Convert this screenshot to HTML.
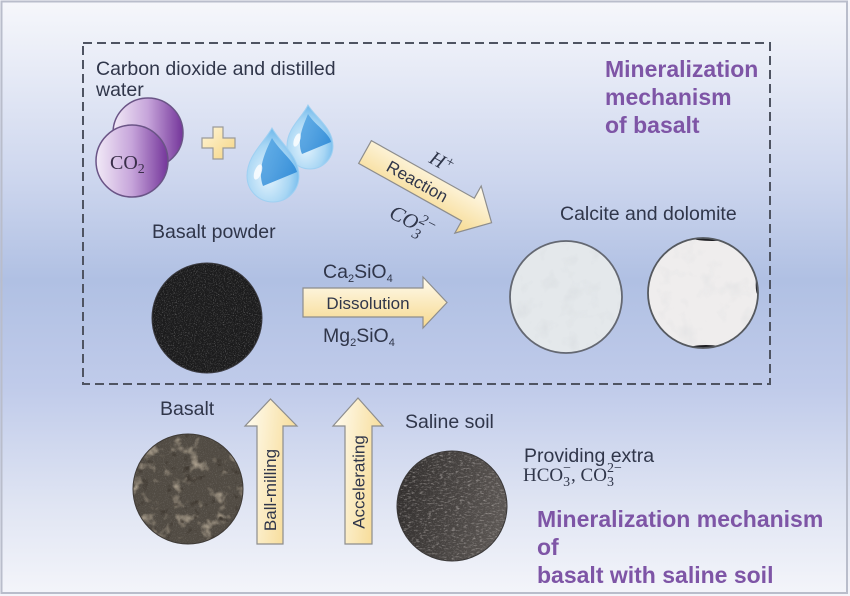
<!DOCTYPE html>
<html>
<head>
<meta charset="utf-8">
<style>
html,body{margin:0;padding:0;background:#fff;}
svg{display:block;}
text{font-family:"Liberation Sans",Arial,sans-serif;}
.t{fill:#30364a;font-size:19.5px;}
.p{fill:#7e55a6;font-size:23px;font-weight:bold;}
.s{font-family:"Liberation Serif",serif;}
</style>
</head>
<body>
<svg width="850" height="596" viewBox="0 0 850 596" xmlns="http://www.w3.org/2000/svg">
<defs>
  <linearGradient id="bg" x1="0" y1="0" x2="0" y2="1">
    <stop offset="0" stop-color="#f6f7fb"/>
    <stop offset="0.08" stop-color="#eceff8"/>
    <stop offset="0.30" stop-color="#cdd6ee"/>
    <stop offset="0.47" stop-color="#b0c0e3"/>
    <stop offset="0.65" stop-color="#c0cbea"/>
    <stop offset="0.85" stop-color="#e0e5f3"/>
    <stop offset="1" stop-color="#f4f5fa"/>
  </linearGradient>
  <linearGradient id="co2g" x1="0" y1="0" x2="1" y2="0">
    <stop offset="0" stop-color="#f2eaf7"/>
    <stop offset="0.5" stop-color="#c6a4da"/>
    <stop offset="1" stop-color="#74359a"/>
  </linearGradient>
  <linearGradient id="plusg" x1="0" y1="0" x2="1" y2="1">
    <stop offset="0" stop-color="#fff6d8"/>
    <stop offset="1" stop-color="#f5d483"/>
  </linearGradient>
  <radialGradient id="dropg" cx="0.4" cy="0.65" r="0.7">
    <stop offset="0" stop-color="#e6f4fd"/>
    <stop offset="0.6" stop-color="#a8d6f4"/>
    <stop offset="1" stop-color="#62b2ea"/>
  </radialGradient>
  <linearGradient id="dropin" x1="0" y1="0" x2="1" y2="1">
    <stop offset="0" stop-color="#5aaae6"/>
    <stop offset="1" stop-color="#1f7fd2"/>
  </linearGradient>
  <linearGradient id="arrH" x1="0" y1="0" x2="0" y2="1">
    <stop offset="0" stop-color="#fffbef"/>
    <stop offset="1" stop-color="#f6d98e"/>
  </linearGradient>
  <linearGradient id="arrV" x1="0" y1="0" x2="1" y2="0.3">
    <stop offset="0" stop-color="#fffdf4"/>
    <stop offset="1" stop-color="#f7dc98"/>
  </linearGradient>
  <linearGradient id="soilg" x1="0" y1="0" x2="1" y2="0.2">
    <stop offset="0" stop-color="#2e2b2a"/>
    <stop offset="1" stop-color="#5a5552"/>
  </linearGradient>
  <clipPath id="c1"><circle cx="207" cy="318" r="55"/></clipPath>
  <clipPath id="c2"><circle cx="188" cy="489" r="55"/></clipPath>
  <clipPath id="c3"><circle cx="452" cy="506" r="55"/></clipPath>
  <clipPath id="c4"><circle cx="566" cy="297" r="56"/></clipPath>
  <clipPath id="c5"><circle cx="703" cy="293" r="55"/></clipPath>
  <filter id="speck" x="0" y="0" width="850" height="596" filterUnits="userSpaceOnUse">
    <feTurbulence type="fractalNoise" baseFrequency="0.9" numOctaves="2" seed="4"/>
    <feColorMatrix type="matrix" values="0 0 0 0 0.55  0 0 0 0 0.55  0 0 0 0 0.55  2.2 0 0 0 -1.15"/>
  </filter>
  <filter id="rock" x="0" y="0" width="850" height="596" filterUnits="userSpaceOnUse">
    <feTurbulence type="fractalNoise" baseFrequency="0.07" numOctaves="3" seed="7"/>
    <feColorMatrix type="matrix" values="0 0 0 0 0.68  0 0 0 0 0.58  0 0 0 0 0.44  3 0 0 0 -1.65"/>
  </filter>
  <filter id="holes" x="0" y="0" width="850" height="596" filterUnits="userSpaceOnUse">
    <feTurbulence type="fractalNoise" baseFrequency="0.12" numOctaves="2" seed="11"/>
    <feColorMatrix type="matrix" values="0 0 0 0 0.05  0 0 0 0 0.04  0 0 0 0 0.03  -5 0 0 0 1.9"/>
  </filter>
  <filter id="streak" x="0" y="0" width="850" height="596" filterUnits="userSpaceOnUse">
    <feTurbulence type="fractalNoise" baseFrequency="0.25 0.6" numOctaves="2" seed="2"/>
    <feColorMatrix type="matrix" values="0 0 0 0 0.58  0 0 0 0 0.54  0 0 0 0 0.52  3 0 0 0 -1.6"/>
  </filter>
  <filter id="soft" x="0" y="0" width="850" height="596" filterUnits="userSpaceOnUse">
    <feTurbulence type="fractalNoise" baseFrequency="0.05" numOctaves="3" seed="9"/>
    <feColorMatrix type="matrix" values="0 0 0 0 0.6  0 0 0 0 0.63  0 0 0 0 0.66  1.6 0 0 0 -0.85"/>
  </filter>
</defs>

<!-- background -->
<rect x="0" y="0" width="850" height="596" fill="url(#bg)"/>
<rect x="1.5" y="1.5" width="845.5" height="591.5" fill="none" stroke="#b9bdcb" stroke-width="2"/>

<!-- dashed box -->
<rect x="83" y="43" width="687" height="341" fill="none" stroke="#4f5462" stroke-width="2" stroke-dasharray="9,5"/>

<!-- text top -->
<text class="t" x="96" y="75">Carbon dioxide and distilled</text>
<text class="t" x="96" y="96">water</text>

<!-- CO2 circles -->
<circle cx="148" cy="133" r="35" fill="url(#co2g)" stroke="#6a5486" stroke-width="1.5"/>
<circle cx="132" cy="161" r="36" fill="url(#co2g)" stroke="#6a5486" stroke-width="1.5"/>
<text class="s" x="110" y="169" font-size="20" fill="#3a2f4a">CO<tspan font-size="14" dy="4">2</tspan></text>

<!-- plus -->
<path d="M213,127 h10 v11 h12 v10 h-12 v11 h-10 v-11 h-11 v-10 h11 z" fill="url(#plusg)" stroke="#9a9a9a" stroke-width="1.2"/>

<!-- drops -->
<g transform="translate(310,144)">
  <path d="M-2,-39 C6,-26 23,-16 23,2 A23,23 0 0 1 -23,2 C-23,-16 -8,-26 -2,-39 Z" fill="url(#dropg)" stroke="#9fd0f2" stroke-width="1"/>
  <path d="M-2,-30 C4,-20 20,-10 21,-2 L-8,10 C-14,-4 -6,-20 -2,-30 Z" fill="url(#dropin)" opacity="0.85"/>
  <ellipse cx="-13" cy="-4" rx="3" ry="7" fill="#ffffff" opacity="0.8" transform="rotate(20 -13 -4)"/>
</g>
<g transform="translate(273,176)">
  <path d="M-1,-48 C8,-32 26,-20 26,0 A26,26 0 0 1 -26,0 C-26,-20 -10,-32 -1,-48 Z" fill="url(#dropg)" stroke="#9fd0f2" stroke-width="1"/>
  <path d="M-1,-38 C6,-26 22,-14 24,-4 L-10,10 C-16,-6 -8,-24 -1,-38 Z" fill="url(#dropin)" opacity="0.85"/>
  <ellipse cx="-15" cy="-4" rx="3.5" ry="8" fill="#ffffff" opacity="0.8" transform="rotate(20 -15 -4)"/>
</g>

<!-- purple title top -->
<text class="p" x="605" y="77">Mineralization</text>
<text class="p" x="605" y="105">mechanism</text>
<text class="p" x="605" y="133">of basalt</text>

<!-- reaction arrow -->
<g transform="translate(365,152) rotate(29.2)">
  <polygon points="0,-13 118,-13 118,-27 145,0 118,27 118,13 0,13" fill="url(#arrH)" stroke="#8d8d8d" stroke-width="1.2"/>
  <text x="60" y="6" text-anchor="middle" font-size="17" fill="#30364a">Reaction</text>
</g>
<text class="s" x="0" y="0" font-size="20" font-style="italic" fill="#30364a" transform="translate(428,162) rotate(29)">H<tspan font-size="15" dy="-6">+</tspan></text>
<text class="s" x="0" y="0" font-size="21" font-style="italic" fill="#30364a" transform="translate(388,217) rotate(27)">CO<tspan font-size="15" dy="7">3</tspan><tspan font-size="15" dx="-7" dy="-16">2−</tspan></text>

<!-- basalt powder -->
<text class="t" x="152" y="238">Basalt powder</text>
<g clip-path="url(#c1)">
  <rect x="150" y="262" width="115" height="113" fill="#1c1c1d"/>
  <rect x="150" y="262" width="115" height="113" filter="url(#speck)" opacity="0.6"/>
</g>
<circle cx="207" cy="318" r="55" fill="none" stroke="#3a3a40" stroke-width="1"/>

<!-- dissolution arrow -->
<text class="t" x="323" y="278" font-size="17">Ca<tspan font-size="11" dy="4">2</tspan><tspan dy="-4">SiO</tspan><tspan font-size="11" dy="4">4</tspan></text>
<polygon points="303,288 423,288 423,277 447,302.5 423,328 423,317 303,317" fill="url(#arrH)" stroke="#8d8d8d" stroke-width="1.2"/>
<text x="368" y="309" text-anchor="middle" font-size="17" fill="#30364a">Dissolution</text>
<text class="t" x="323" y="342" font-size="17">Mg<tspan font-size="11" dy="4">2</tspan><tspan dy="-4">SiO</tspan><tspan font-size="11" dy="4">4</tspan></text>

<!-- calcite and dolomite -->
<text class="t" x="560" y="220">Calcite and dolomite</text>
<g clip-path="url(#c4)">
  <rect x="508" y="240" width="118" height="115" fill="#e4e8eb"/>
  <rect x="508" y="240" width="118" height="115" filter="url(#soft)" opacity="0.55"/>
</g>
<circle cx="566" cy="297" r="56" fill="none" stroke="#646872" stroke-width="1.8"/>
<g clip-path="url(#c5)">
  <rect x="646" y="236" width="116" height="114" fill="#efeded"/>
  <rect x="646" y="236" width="116" height="114" filter="url(#soft)" opacity="0.45"/>
  <ellipse cx="712" cy="238.5" rx="18" ry="2.5" fill="#1e1e22"/>
  <ellipse cx="706" cy="348" rx="16" ry="3" fill="#1e1e22"/>
  <ellipse cx="757.5" cy="285" rx="1.8" ry="9" fill="#2a2a30"/>
</g>
<circle cx="703" cy="293" r="55" fill="none" stroke="#55595f" stroke-width="1.8"/>

<!-- basalt -->
<text class="t" x="160" y="415">Basalt</text>
<g clip-path="url(#c2)">
  <rect x="130" y="432" width="116" height="114" fill="#514b43"/>
  <rect x="130" y="432" width="116" height="114" filter="url(#rock)" opacity="0.8"/>
  <rect x="130" y="432" width="116" height="114" filter="url(#holes)"/>
  <rect x="130" y="432" width="116" height="114" filter="url(#speck)" opacity="0.3"/>
</g>
<circle cx="188" cy="489" r="55" fill="none" stroke="#3e3a36" stroke-width="1"/>

<!-- vertical arrows -->
<polygon points="257,544 257,426 245,426 270.5,399 297,426 283,426 283,544" fill="url(#arrV)" stroke="#8d8d8d" stroke-width="1.2"/>
<text x="0" y="0" text-anchor="middle" font-size="17" fill="#30364a" transform="translate(276,490) rotate(-90)">Ball-milling</text>
<polygon points="345,544 345,426 333,426 358,398 383,426 372,426 372,544" fill="url(#arrV)" stroke="#8d8d8d" stroke-width="1.2"/>
<text x="0" y="0" text-anchor="middle" font-size="17" fill="#30364a" transform="translate(364.5,482) rotate(-90)">Accelerating</text>

<!-- saline soil -->
<text class="t" x="405" y="428">Saline soil</text>
<g clip-path="url(#c3)">
  <rect x="395" y="449" width="115" height="114" fill="url(#soilg)"/>
  <rect x="395" y="449" width="115" height="114" filter="url(#streak)" opacity="0.6"/>
  <rect x="395" y="449" width="115" height="114" filter="url(#speck)" opacity="0.35"/>
</g>
<circle cx="452" cy="506" r="55" fill="none" stroke="#3a3838" stroke-width="1"/>

<!-- providing extra -->
<text class="t" x="524" y="462">Providing extra</text>
<text class="s" x="523" y="481" font-size="19" fill="#30364a">HCO<tspan font-size="14" dy="5">3</tspan><tspan font-size="14" dx="-7" dy="-14">−</tspan><tspan dy="9">, CO</tspan><tspan font-size="14" dy="5">3</tspan><tspan font-size="14" dx="-7" dy="-14">2−</tspan></text>

<!-- purple title bottom -->
<text class="p" x="537" y="527">Mineralization mechanism</text>
<text class="p" x="537" y="555">of</text>
<text class="p" x="537" y="583">basalt with saline soil</text>
</svg>
</body>
</html>
